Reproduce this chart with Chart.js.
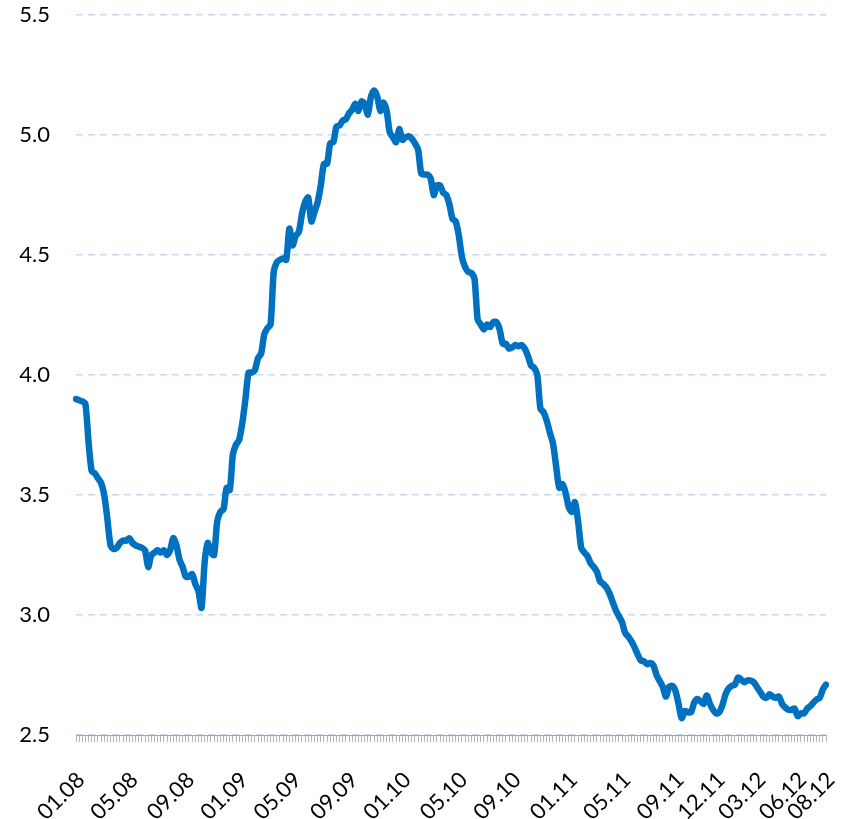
<!DOCTYPE html>
<html>
<head>
<meta charset="utf-8">
<script src="https://cdn.jsdelivr.net/npm/chart.js@4/dist/chart.umd.min.js"></script>
<style>
    body { margin: 0; background: #fff; }
</style>
</head>
<body>
<canvas id="canvas-rate" width="845" height="819"></canvas>
<script>
// weekly values (first week = 04.01.2008)
const rates2008 = [
    3.90, 3.895, 3.89, 3.88, 3.72, 3.60, 3.59, 3.57, 3.55, 3.50,
    3.40, 3.29, 3.275, 3.28, 3.30, 3.31, 3.31, 3.32, 3.30, 3.29,
    3.285, 3.28, 3.27, 3.20, 3.25, 3.26, 3.27, 3.26, 3.27, 3.25,
    3.27, 3.32, 3.29, 3.23, 3.20, 3.16, 3.16, 3.17, 3.13, 3.10,
    3.03, 3.22, 3.30, 3.26, 3.25, 3.39, 3.43, 3.44, 3.53, 3.52,
    3.67, 3.71
];
const rates2009 = [
    3.73, 3.80, 3.90, 4.01, 4.01, 4.02, 4.07, 4.09, 4.17, 4.195,
    4.21, 4.43, 4.47, 4.48, 4.485, 4.48, 4.61, 4.54, 4.58, 4.595,
    4.67, 4.72, 4.74, 4.64, 4.68, 4.72, 4.79, 4.88, 4.88, 4.965,
    4.97, 5.035, 5.04, 5.06, 5.065, 5.09, 5.105, 5.13, 5.10, 5.14,
    5.13, 5.085, 5.16, 5.185, 5.16, 5.10, 5.135, 5.10, 5.01, 4.99,
    4.97, 5.025
];
const rates2010 = [
    4.98, 4.99, 4.995, 4.985, 4.965, 4.94, 4.84, 4.835, 4.835, 4.82,
    4.75, 4.79, 4.79, 4.76, 4.75, 4.71, 4.65, 4.64, 4.58, 4.49,
    4.45, 4.43, 4.425, 4.40, 4.23, 4.21, 4.19, 4.21, 4.20, 4.22,
    4.22, 4.19, 4.13, 4.13, 4.11, 4.115, 4.125, 4.12, 4.125, 4.11,
    4.08, 4.04, 4.03, 4.00, 3.86, 3.845, 3.81, 3.76, 3.715, 3.62,
    3.53, 3.545, 3.51
];
const rates2011 = [
    3.45, 3.43, 3.47, 3.39, 3.28, 3.26, 3.245, 3.215, 3.20, 3.18,
    3.14, 3.13, 3.115, 3.09, 3.055, 3.02, 2.995, 2.97, 2.925, 2.91,
    2.89, 2.865, 2.835, 2.81, 2.807, 2.795, 2.80, 2.79, 2.75, 2.725,
    2.70, 2.66, 2.70, 2.705, 2.685, 2.63, 2.57, 2.60, 2.595, 2.595,
    2.635, 2.65, 2.64, 2.63, 2.665, 2.63, 2.605, 2.59, 2.595, 2.625,
    2.67, 2.695
];
const rates2012 = [
    2.705, 2.71, 2.74, 2.73, 2.72, 2.728, 2.727, 2.72, 2.70, 2.68,
    2.66, 2.655, 2.67, 2.66, 2.655, 2.66, 2.63, 2.615, 2.605, 2.605,
    2.61, 2.578, 2.59, 2.59, 2.61, 2.62, 2.635, 2.648, 2.655, 2.69,
    2.71
];

// month labels that are written under the axis
const shownMonths = [
    '01.08', '05.08', '09.08', '01.09', '05.09', '09.09', '01.10', '05.10',
    '09.10', '01.11', '05.11', '09.11', '12.11', '03.12', '06.12', '08.12'
];

const firstWeek = Date.UTC(2008, 0, 4);
const yTicks = {min: 2.5, max: 5.5, step: 0.5};

const rates = [].concat(rates2008, rates2009, rates2010, rates2011, rates2012);

function pad2(n) {
    return (n < 10 ? '0' : '') + n;
}

// one category per week, 'dd.mm.yy'
let weeks = [];
for (let i = 0; i < rates.length; i++) {
    let d = new Date(firstWeek + i * 7 * 86400000);
    weeks.push(pad2(d.getUTCDate()) + '.' + pad2(d.getUTCMonth() + 1) + '.' + String(d.getUTCFullYear()).slice(2));
}

function monthLabel(week) {
    let parts = week.split('.');
    let month = parts[1] + '.' + parts[2];
    if (parseInt(parts[0], 10) <= 7 && shownMonths.indexOf(month) >= 0) {
        return month;
    }
    return '';
}

const axisFont = {family: 'Lato, "Open Sans", sans-serif', size: 22};

let ctxRate = document.getElementById('canvas-rate').getContext('2d');
let rateChart = new Chart(ctxRate, {
    type: 'line',
    data: {
        labels: weeks,
        datasets: [{
            data: rates,
            borderColor: '#0070c0',
            borderWidth: 6.5,
            borderJoinStyle: 'round',
            borderCapStyle: 'round',
            pointRadius: 0,
            tension: 0.25,
            fill: false,
        }]
    },
    options: {
        responsive: false,
        animation: false,
        devicePixelRatio: 1,
        layout: {
            padding: {top: 15, right: 19, left: 0, bottom: 0}
        },
        plugins: {
            legend: {display: false},
            tooltip: {enabled: false}
        },
        scales: {
            x: {
                offset: false,
                afterFit: function (scale) {
                    scale.height = 84;
                    scale.paddingTop = 0;
                    scale.paddingBottom = 0;
                    scale.paddingLeft = 0;
                    scale.paddingRight = 0;
                },
                grid: {
                    drawOnChartArea: false,
                    drawTicks: true,
                    tickLength: 7,
                    tickColor: '#b3b3b3',
                    tickWidth: 1,
                },
                border: {display: true, color: '#a6a6a6', width: 1},
                ticks: {
                    autoSkip: false,
                    maxRotation: 45,
                    minRotation: 45,
                    padding: 25,
                    labelOffset: 5,
                    color: '#000',
                    font: axisFont,
                    callback: function (value) {
                        return monthLabel(this.getLabelForValue(value));
                    }
                }
            },
            y: {
                min: yTicks.min,
                max: yTicks.max,
                afterFit: function (scale) {
                    scale.width = 76;
                    scale.paddingTop = 0;
                    scale.paddingBottom = 0;
                },
                grid: {
                    color: '#c6d7ee',
                    lineWidth: 1.5,
                    drawTicks: false,
                },
                border: {display: false, dash: [7, 5]},
                ticks: {
                    stepSize: yTicks.step,
                    padding: 26,
                    color: '#000',
                    font: axisFont,
                    callback: function (value) {
                        return value.toFixed(1);
                    }
                }
            }
        }
    }
});
</script>
</body>
</html>
